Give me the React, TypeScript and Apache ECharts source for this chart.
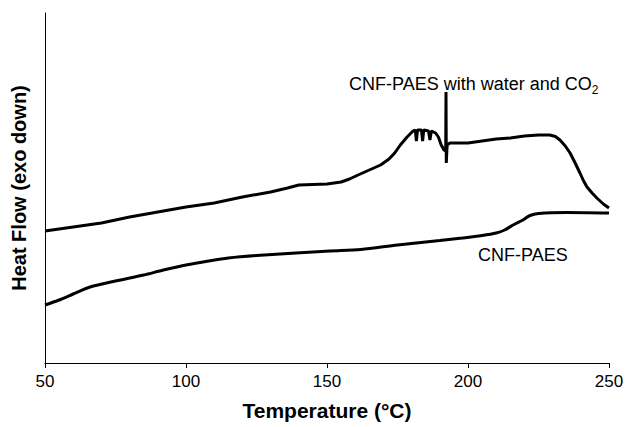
import React, { useEffect, useRef } from "react";
import * as echarts from "echarts";

// Temperature (°C) and heat flow (arbitrary units, exo down)
const waterTemps = [50, 55, 60, 70, 80, 90, 100, 110, 120, 130, 136, 140, 145, 150, 155, 158, 161, 165, 169, 172, 174, 176, 178.4, 180.5, 181.3, 181.7, 182.1, 183.5, 183.9, 184.3, 186, 186.5, 187, 188.5, 189.5, 190.5, 191.5, 192.1, 192.2, 192.3, 192.6, 193.6, 195, 200, 205, 210, 215, 220, 225, 229, 231, 232.6, 234.5, 236.2, 238, 239.7, 241, 242.2, 244, 245.7, 248, 250];
const waterFlow = [132, 134, 136, 140, 146, 151, 156, 160, 166, 171, 175, 178, 178.5, 179, 181, 184, 188, 193, 198, 204, 210, 218, 226, 232, 233, 222, 233, 233, 222, 233, 232, 223, 232, 230, 226, 218, 213, 212, 271, 200, 218, 220, 220, 220, 222, 224, 225, 227, 228, 228, 226.5, 223, 217, 210, 200, 190, 182, 176, 170, 165, 159, 155];

const dryTemps = [50, 55, 60, 66, 75, 85, 92, 100, 108, 115, 125, 139, 151, 162, 175, 190, 198, 205, 210, 213, 216, 219.5, 222, 225, 235, 250];
const dryFlow = [58, 63, 69, 76, 82, 88, 93, 98, 102, 105, 107.5, 110, 112, 113.5, 118, 122.5, 125, 127.5, 130, 133, 138, 143, 147.5, 149.5, 150.5, 150];

const xTicks = [50, 100, 150, 200, 250];
const FONT = "'Liberation Sans', Arial, sans-serif";

export default function App() {
  const ref = useRef<HTMLDivElement>(null);
  useEffect(() => {
    document.body.style.margin = "0";
    const chart = echarts.init(ref.current!, null, { renderer: "svg" });
    chart.setOption({
      animation: false,
      grid: { left: 45, right: 19, top: 13, bottom: 64 },
      xAxis: {
        type: "value",
        min: xTicks[0],
        max: xTicks[xTicks.length - 1],
        interval: 50,
        name: "Temperature (°C)",
        nameLocation: "middle",
        nameGap: 37,
        nameTextStyle: { fontFamily: FONT, fontWeight: "bold", fontSize: 21, color: "#000" },
        axisLine: { show: true, onZero: false, lineStyle: { color: "#000", width: 1 } },
        axisTick: { show: true, inside: false, length: 5, lineStyle: { color: "#000" } },
        axisLabel: { fontFamily: FONT, fontSize: 17, color: "#000", margin: 10 },
        splitLine: { show: false },
      },
      yAxis: {
        type: "value",
        min: 0,
        max: 350,
        name: "Heat Flow (exo down)",
        nameLocation: "middle",
        nameGap: 16,
        nameTextStyle: { fontFamily: FONT, fontWeight: "bold", fontSize: 20, color: "#000" },
        axisLine: { show: true, lineStyle: { color: "#000", width: 1 } },
        axisTick: { show: false },
        axisLabel: { show: false },
        splitLine: { show: false },
      },
      series: [
        {
          type: "line",
          name: "CNF-PAES with water and CO2",
          data: waterTemps.map((t, i) => [t, waterFlow[i]]),
          showSymbol: false,
          symbol: "none",
          lineStyle: { color: "#000", width: 3 },
        },
        {
          type: "line",
          name: "CNF-PAES",
          data: dryTemps.map((t, i) => [t, dryFlow[i]]),
          showSymbol: false,
          symbol: "none",
          smooth: 0.3,
          lineStyle: { color: "#000", width: 3 },
        },
      ],
      graphic: [
        {
          type: "text",
          x: 349,
          y: 82,
          style: {
            text: "{a|CNF-PAES with water and CO}{s|2}",
            textAlign: "left",
            textVerticalAlign: "middle",
            fill: "#000",
            rich: {
              a: { fontFamily: FONT, fontSize: 18, lineHeight: 22, verticalAlign: "bottom", fill: "#000" },
              s: { fontFamily: FONT, fontSize: 12, lineHeight: 12, verticalAlign: "bottom", padding: [0, 0, -3, 0], fill: "#000" },
            },
          },
        },
        {
          type: "text",
          x: 478,
          y: 255,
          style: {
            text: "CNF-PAES",
            textAlign: "left",
            textVerticalAlign: "middle",
            fontFamily: FONT,
            fontSize: 18,
            fill: "#000",
          },
        },
      ],
    });
    return () => chart.dispose();
  }, []);
  return <div ref={ref} style={{ width: 628, height: 427 }} />;
}
